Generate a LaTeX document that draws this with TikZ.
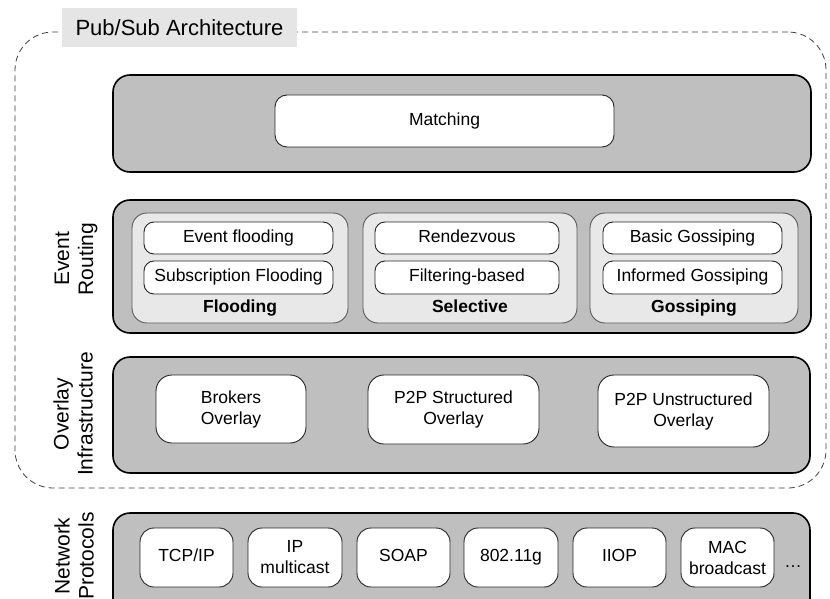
\documentclass[tikz,border=0pt]{standalone}
\usepackage{fontspec}
\setmainfont{Liberation Sans}
\begin{document}
\begin{tikzpicture}[x=1pt,y=-1pt,
  every node/.style={inner sep=0pt, outer sep=0pt},
  txt/.style={font=\fontsize{17.5}{21}\selectfont, align=center},
  one/.style={text height=12.6pt, text depth=3.7pt},
  layer/.style={draw=black, line width=1.6pt, fill=black!25, rounded corners=17pt},
  grp/.style={draw=black!65, line width=0.9pt, fill=black!9, rounded corners=15pt},
  item/.style={txt, draw=black!85, line width=0.9pt, fill=white, rounded corners=10pt},
  cell/.style={txt, draw=black!85, line width=0.9pt, fill=white, rounded corners=14pt},
  side/.style={font=\fontsize{21}{24}\selectfont, align=center, rotate=90},
  glabel/.style={font=\fontsize{17.5}{21}\selectfont\bfseries, one}
]
\clip (0,0) rectangle (830,599);
\fill[white] (0,0) rectangle (830,599);

% outer dashed architecture frame
\node[draw=black!75, line width=0.8pt, dash pattern=on 6pt off 4pt, rounded corners=38pt,
      minimum width=811pt, minimum height=456pt] (arch) at (420.5,260) {};
\node[fill=black!10, minimum width=235pt, minimum height=39pt,
      font=\fontsize{22}{26}\selectfont] (title) at (179.5,27.5) {Pub/Sub Architecture};

% Matching layer
\node[layer, minimum width=698pt, minimum height=97pt] (matchL) at (462,123.5) {};
\node[item, one, rounded corners=12pt, minimum width=339pt, minimum height=52pt] (matching) at (444.5,121) {Matching};

% Event routing layer
\node[layer, minimum width=698pt, minimum height=133pt] (routeL) at (462,266.5) {};
\node[grp, minimum width=216pt, minimum height=110pt] (floodG) at (240,268) {};
\node[grp, minimum width=214pt, minimum height=110pt] (selG) at (470,268) {};
\node[grp, minimum width=208pt, minimum height=110pt] (gossG) at (694,268) {};

\node[item, one, minimum width=189pt, minimum height=32pt] (evfl) at (238.5,238) {Event flooding};
\node[item, one, minimum width=189pt, minimum height=33pt] (subfl) at (238.5,277.5) {Subscription Flooding};
\node[glabel] (floodT) at (240,308) {Flooding};

\node[item, one, minimum width=184pt, minimum height=32pt] (rdv) at (467,238) {Rendezvous};
\node[item, one, minimum width=184pt, minimum height=33pt] (filt) at (467,277.5) {Filtering-based};
\node[glabel] (selT) at (470,308) {Selective};

\node[item, one, minimum width=179pt, minimum height=32pt] (bgos) at (692.5,238) {Basic Gossiping};
\node[item, one, minimum width=179pt, minimum height=33pt] (igos) at (692.5,277.5) {Informed Gossiping};
\node[glabel] (gossT) at (694,308) {Gossiping};

\node[side] (routeS) at (76,259) {Event\\Routing};

% Overlay infrastructure layer
\node[layer, minimum width=697pt, minimum height=116pt] (overL) at (461.5,415) {};
\node[cell, rounded corners=16pt, minimum width=150pt, minimum height=68pt] (brok) at (231,409) {Brokers\\Overlay};
\node[cell, rounded corners=16pt, minimum width=171pt, minimum height=69pt] (p2ps) at (453.5,409.5) {P2P Structured\\Overlay};
\node[cell, rounded corners=16pt, minimum width=171pt, minimum height=72pt] (p2pu) at (683.5,411) {P2P Unstructured\\Overlay};
\node[side] (overS) at (73,414) {Overlay\\Infrastructure};

% Network protocols layer
\node[layer, minimum width=697pt, minimum height=110pt] (netL) at (461.5,568) {};
\node[cell, one, minimum width=93pt, minimum height=59pt] (tcp) at (186.5,557.5) {TCP/IP};
\node[cell, minimum width=94pt, minimum height=59pt] (ipm) at (295,557.5) {IP\\multicast};
\node[cell, one, minimum width=93pt, minimum height=59pt] (soap) at (403.5,557.5) {SOAP};
\node[cell, one, minimum width=94pt, minimum height=59pt] (wifi) at (511,557.5) {802.11g};
\node[cell, one, minimum width=93pt, minimum height=59pt] (iiop) at (619.5,557.5) {IIOP};
\node[cell, minimum width=93pt, minimum height=59pt] (mac) at (727.5,557.5) {MAC\\broadcast};
\node[txt] (dots) at (793,567) {\ldots};
\node[side] (netS) at (74,556) {Network\\Protocols};
\end{tikzpicture}
\end{document}
